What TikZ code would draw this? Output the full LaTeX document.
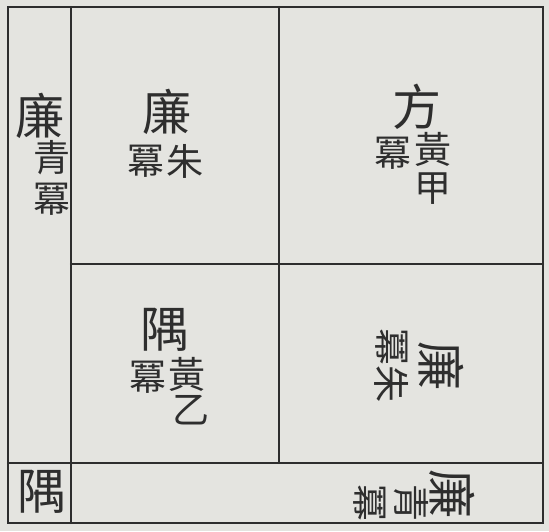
\documentclass[tikz,border=0pt]{standalone}
\usepackage{fontspec}
\newfontfamily\cjk{Noto Sans CJK TC}
\definecolor{paper}{HTML}{E4E4E0}
\definecolor{ink}{HTML}{2E2E2E}
\begin{document}
\begin{tikzpicture}[x=1pt,y=-1pt,
  frame/.style={draw=ink,line width=2.2pt,line cap=round},
  big/.style={font=\cjk\fontsize{49}{49}\selectfont,text=ink,inner sep=0pt},
  small/.style={font=\cjk\fontsize{37}{37}\selectfont,text=ink,inner sep=0pt}]
\fill[paper] (0,0) rectangle (549,531);
\useasboundingbox (0,0) rectangle (549,531);
% frame
\draw[frame] (8,7) rectangle (543,523);
\draw[frame] (71,7) -- (71,523);
\draw[frame] (8,463) -- (543,463);
\draw[frame] (279,7) -- (279,463);
\draw[frame] (71,264) -- (543,264);
% left column
\node[big] (lianL) at (40,116) {廉};
\node[small] (qingL) at (52,158) {青};
\node[small] (miL) at (52,199) {冪};
% top-left square
\node[big] (lianA) at (167,112) {廉};
\node[small] (miA) at (146,161) {冪};
\node[small] (zhuA) at (185,161) {朱};
% top-right square
\node[big] (fang) at (417,107) {方};
\node[small] (miB) at (393,153) {冪};
\node[small] (huangB) at (433,149) {黃};
\node[small] (jia) at (433,189) {甲};
% bottom-left square
\node[big] (yuA) at (165,330) {隅};
\node[small] (miC) at (148,377) {冪};
\node[small] (huangC) at (187,374) {黃};
\node[small] (yi) at (191,410) {乙};
% bottom-right square (rotated)
\node[big,rotate=-90] (lianD) at (441,366) {廉};
\node[small,rotate=-90] (miD) at (392,347) {冪};
\node[small,rotate=-90] (zhuD) at (392,384) {朱};
% bottom strip
\node[big] (yuB) at (42,492) {隅};
\node[big,rotate=-90] (lianE) at (452,494) {廉};
\node[small,rotate=-90] (qingE) at (411,503) {青};
\node[small,rotate=-90] (miE) at (370,503) {冪};
\end{tikzpicture}
\end{document}
